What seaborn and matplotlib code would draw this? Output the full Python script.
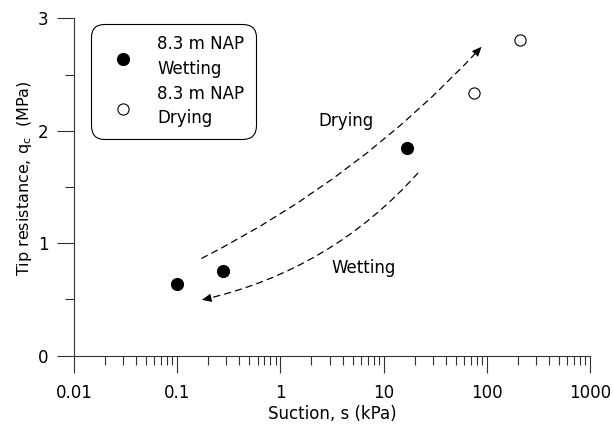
import numpy as np
import pandas as pd
import seaborn as sns
import matplotlib.pyplot as plt
from matplotlib.patches import FancyArrowPatch
from matplotlib.ticker import LogLocator, NullFormatter, FixedLocator

# Data
wet_suction = [0.1, 0.28, 17]
wet_qc = [0.637, 0.75, 1.849]
dry_suction = [75, 210]
dry_qc = [2.335, 2.81]

wet_label = '8.3 m NAP\nWetting'
dry_label = '8.3 m NAP\nDrying'

# Arrows (start, end) in data coordinates
dry_arrow = [(0.173, 0.866), (89, 2.747)]
wet_arrow = [(21.5, 1.624), (0.173, 0.496)]

sns.set_style('ticks')
plt.rcParams['font.family'] = ['DejaVu Sans']
plt.rcParams['text.color'] = 'black'
plt.rcParams['axes.labelcolor'] = 'black'

fig = plt.figure(figsize=(6.13, 4.32), dpi=100)
ax = fig.add_axes([74 / 613, (432 - 355.7) / 432, 516 / 613, 337.4 / 432])

wet = pd.DataFrame({'s': wet_suction, 'qc': wet_qc})
dry = pd.DataFrame({'s': dry_suction, 'qc': dry_qc})

sns.scatterplot(data=wet, x='s', y='qc', ax=ax, s=75, color='black',
                edgecolor='black', linewidth=0.8, label=wet_label, zorder=3)
sns.scatterplot(data=dry, x='s', y='qc', ax=ax, s=65, color='white',
                edgecolor='black', linewidth=0.8, label=dry_label, zorder=3)

ax.set_xscale('log')
ax.set_xlim(0.01, 1000)
ax.set_ylim(0, 3)
ax.xaxis.set_major_locator(FixedLocator([0.01, 0.1, 1, 10, 100, 1000]))
ax.xaxis.set_minor_locator(LogLocator(base=10, subs=np.arange(2, 10), numticks=20))
ax.xaxis.set_minor_formatter(NullFormatter())
ax.set_xticklabels(['0.01', '0.1', '1', '10', '100', '1000'])
ax.set_yticks([0, 1, 2, 3])
ax.set_yticks([0.5, 1.5, 2.5], minor=True)

for sp in ['top', 'right']:
    ax.spines[sp].set_visible(False)
for sp in ['left', 'bottom']:
    ax.spines[sp].set_linewidth(0.8)
    ax.spines[sp].set_color('#333333')

ax.tick_params(which='major', direction='out', length=12.3, width=0.8,
               colors='#333333', labelcolor='black', labelsize=12)
ax.tick_params(which='minor', direction='out', length=6.3, width=0.8,
               colors='#333333')
ax.tick_params(axis='x', which='major', pad=8)
ax.tick_params(axis='y', which='major', pad=6)

ax.set_xlabel('Suction, s (kPa)', fontsize=12, labelpad=2)
ax.set_ylabel('Tip resistance, q$_\\mathregular{c}$  (MPa)', fontsize=11.5)
ax.yaxis.set_label_coords(-0.078, 0.527)

# curved dashed arrows
for (p0, p1), rad in [(dry_arrow, 0.09), (wet_arrow, -0.16)]:
    line = FancyArrowPatch(p0, p1, arrowstyle='-', linestyle=(0, (5, 4)),
                           connectionstyle=f'arc3,rad={rad}', color='black',
                           linewidth=0.9, shrinkA=0, shrinkB=3)
    head = FancyArrowPatch(p0, p1, arrowstyle='-|>,head_length=7,head_width=3',
                           connectionstyle=f'arc3,rad={rad}', color='black',
                           linewidth=0, shrinkA=0, shrinkB=0, mutation_scale=1)
    ax.add_patch(line)
    ax.add_patch(head)

ax.text(4.37, 2.085, 'Drying', fontsize=12, ha='center', va='center')
ax.text(6.35, 0.78, 'Wetting', fontsize=12, ha='center', va='center')

leg = ax.legend(loc='upper left', bbox_to_anchor=(0.033, 0.983), fontsize=12,
                frameon=True, fancybox=True, edgecolor='black',
                handletextpad=0.8, borderpad=0.68, labelspacing=0.45,
                handlelength=2.5, borderaxespad=0)
for t in leg.get_texts():
    t.set_linespacing(1.45)
leg.get_frame().set_linewidth(0.8)
leg.get_frame().set_boxstyle('round', pad=0, rounding_size=0.8)
leg.get_frame().set_alpha(1)

fig.savefig('out.png', dpi=100)
